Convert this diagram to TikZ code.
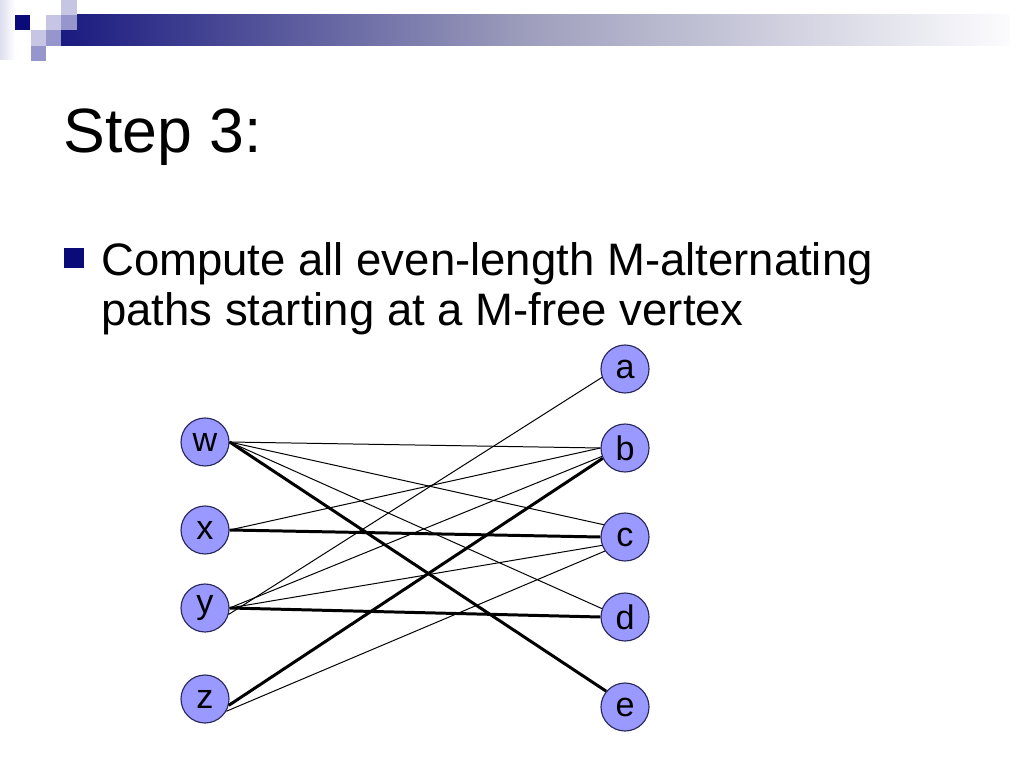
\documentclass[tikz,border=0pt]{standalone}
\usepackage{fontspec}
\setmainfont{Liberation Sans}
\definecolor{slidenavy}{RGB}{10,10,120}
\definecolor{barnavy}{RGB}{26,26,128}
\definecolor{barmid}{RGB}{160,160,190}
\definecolor{barfade}{RGB}{252,252,254}
\definecolor{lavpale}{RGB}{222,222,240}
\definecolor{lavlight}{RGB}{198,198,228}
\definecolor{lavmid}{RGB}{150,150,205}
\definecolor{vertexfill}{RGB}{153,153,255}
\definecolor{vertexline}{RGB}{40,40,90}

\begin{document}
\begin{tikzpicture}[
        x=0.703125pt, y=-0.703125pt,
        vertex/.style={
            circle,
            draw=vertexline,
            line width=0.8pt,
            fill=vertexfill,
            minimum size=33.75pt,
            inner sep=0pt,
            font=\fontsize{24}{28}\selectfont
        },
        cell/.style={draw=none},
        edge/.style={line width=0.7pt},
        matched/.style={line width=2.1pt},
        slide text/.style={
            anchor=base west,
            inner sep=0pt,
            font=\fontsize{32}{38}\selectfont
        }
    ]
    \useasboundingbox (0,0) rectangle (1024,768);

    \shade[left color=barnavy, right color=barfade, middle color=barmid]
        (61,15) rectangle (1010,46);
    \shade[left color=lavpale, right color=white] (0,0) rectangle (15,60);
    \fill[cell, slidenavy] (15,15) rectangle (30,30);
    \fill[cell, lavlight] (46,15) rectangle (61,30);
    \fill[cell, lavlight] (61,0) rectangle (77,15);
    \fill[cell, lavmid] (61,15) rectangle (77,30);
    \fill[cell, lavlight] (31,30) rectangle (46,46);
    \fill[cell, lavmid] (46,30) rectangle (61,46);
    \fill[cell, lavmid] (31,46) rectangle (46,61);

    \node[anchor=base west, inner sep=0pt, font=\fontsize{44}{52}\selectfont]
        (title) at (63,153) {Step 3:};
    \node[fill=slidenavy, minimum size=14pt, inner sep=0pt] (bullet) at (74,258) {};
    \node[slide text] (line one) at (101,276) {Compute all even-length M-alternating};
    \node[slide text] (line two) at (101,326) {paths starting at a M-free vertex};

    \node[vertex] (w) at (205,442) {w};
    \node[vertex] (x) at (205,530) {x};
    \node[vertex] (y) at (205,608) {y};
    \node[vertex] (z) at (205,699) {z};
    \node[vertex] (a) at (625,369) {a};
    \node[vertex] (b) at (625,448) {b};
    \node[vertex] (c) at (625,537) {c};
    \node[vertex] (d) at (625,617) {d};
    \node[vertex] (e) at (625,707) {e};

    \draw[edge] (w.east) -- (b.west);
    \draw[edge] (w.east) -- (c.150);
    \draw[edge] (w.east) -- (d.160);
    \draw[matched] (w.east) -- (e.140);
    \draw[edge] (x.east) -- (b.west);
    \draw[matched] (x.east) -- (c.west);
    \draw[edge] (y.-15) -- (a.200);
    \draw[edge] (y.east) -- (b.-160);
    \draw[edge] (y.east) -- (c.-160);
    \draw[matched] (y.east) -- (d.west);
    \draw[matched] (z.-15) -- (b.-155);
    \draw[edge] (z.-30) -- (c.-145);
\end{tikzpicture}
\end{document}
